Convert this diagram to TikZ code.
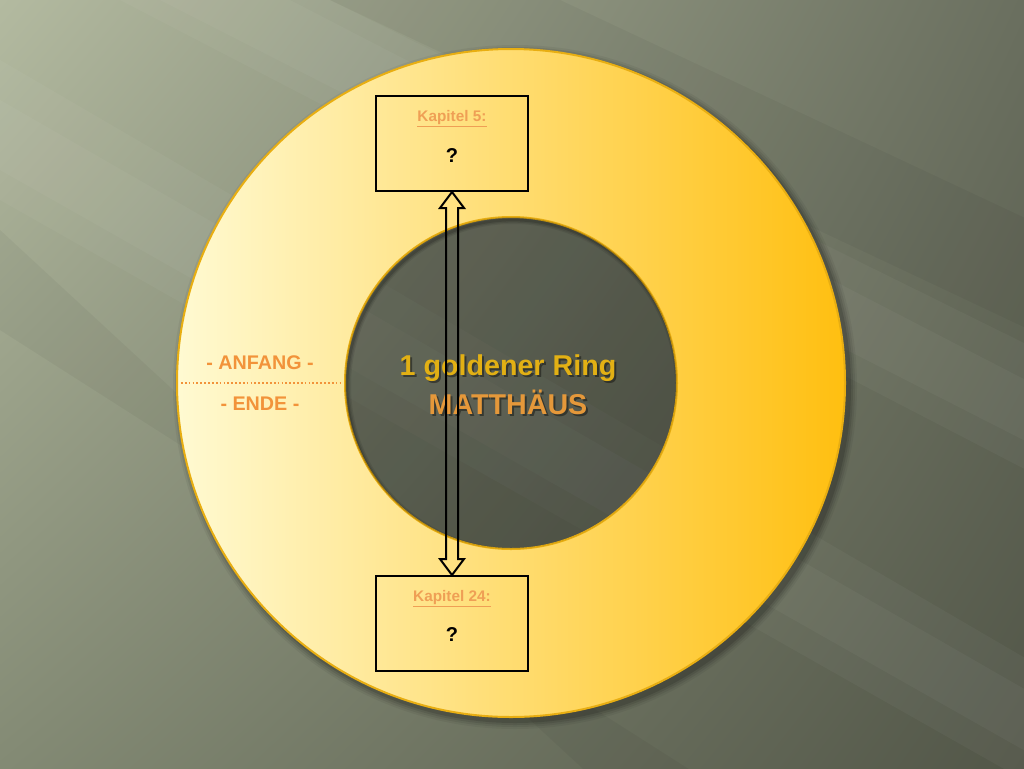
\documentclass[tikz,border=0pt]{standalone}
\usepackage{fontspec}
\setmainfont{Liberation Sans}
\usetikzlibrary{calc,shadings}
\definecolor{bgUL}{HTML}{B3BAA0}
\definecolor{bgUR}{HTML}{6A6F5F}
\definecolor{bgLL}{HTML}{838A74}
\definecolor{bgLR}{HTML}{525648}
\definecolor{ringL}{HTML}{FFFAD2}
\definecolor{ringM}{HTML}{FFE9A0}
\definecolor{ringR}{HTML}{FFBF10}
\definecolor{ringEdge}{HTML}{E8AE12}
\definecolor{kapOrange}{HTML}{EF9F55}
\definecolor{markOrange}{HTML}{F2933A}
\definecolor{goldText}{HTML}{E2B014}
\definecolor{mattOrange}{HTML}{E5983A}
\tikzset{
  kapbox/.style={draw=black, line width=1.5pt, minimum width=114pt, minimum height=71.25pt, inner sep=0pt},
  kaplabel/.style={font=\bfseries\fontsize{11.5pt}{13pt}\selectfont, text=kapOrange, inner sep=0pt},
  qmark/.style={font=\bfseries\fontsize{15pt}{17pt}\selectfont, text=black, inner sep=0pt},
  marklabel/.style={font=\bfseries\fontsize{14.8pt}{17pt}\selectfont, text=markOrange, inner sep=0pt},
  titletext/.style={font=\bfseries\fontsize{21.5pt}{24pt}\selectfont, inner sep=0pt},
  arrowline/.style={draw=black, line width=1.5pt, line join=miter},
  streak/.style={white, opacity=0.035}
}
\begin{document}
\begin{tikzpicture}[x=0.75pt,y=-0.75pt]
\useasboundingbox (0,0) rectangle (1024,768);
% background
\begin{scope}
\clip (0,0) rectangle (1024,768);
\shade[upper left=bgUL, upper right=bgUR, lower left=bgLL, lower right=bgLR] (0,0) rectangle (1024,768);
\fill[streak] (120,0) -- (330,0) -- (1200,430) -- (1200,560) -- cycle;
\fill[streak] (160,0) -- (290,0) -- (1200,470) -- (1200,530) -- cycle;
\fill[streak] (0,60) -- (0,200) -- (1200,880) -- (1200,760) -- cycle;
\fill[streak] (0,100) -- (0,170) -- (1200,850) -- (1200,790) -- cycle;
\fill[black, opacity=0.04] (330,0) -- (560,0) -- (1200,300) -- (1200,410) -- cycle;
\fill[black, opacity=0.04] (0,230) -- (0,330) -- (800,840) -- (660,840) -- cycle;
\end{scope}
% ring shadow
\foreach \r/\o in {342/0.05,340/0.07,338/0.09,336/0.12}{
  \fill[black, opacity=\o] (515,387) circle[radius=\r*0.75pt];
}
% ring
\shade[left color=ringL, middle color=ringM, right color=ringR, even odd rule]
  (511,383) circle[radius=250.5pt] (511,383) circle[radius=124.5pt];
\draw[ringEdge, line width=1.5pt] (511,383) circle[radius=250.5pt];
\draw[ringEdge, line width=1.5pt] (511,383) circle[radius=124.5pt];
% inner hole shadow
\begin{scope}
  \clip (511,383) circle[radius=124.5pt];
  \foreach \w/\o in {6/0.08,4/0.1,2/0.14}{
    \draw[black, opacity=\o, line width=\w pt] (513,386) circle[radius=124.5pt];
  }
\end{scope}
% center text
\node[titletext, text=black, opacity=0.4] at (510,370) {1 goldener Ring};
\node[titletext, text=goldText] (ring) at (508,368) {1 goldener Ring};
\node[titletext, text=black, opacity=0.4] at (510,404) {MATTHÄUS};
\node[titletext, text=mattOrange] (matt) at (508,402) {MATTHÄUS};
% boxes
\node[kapbox] (k5) at (452,143.5) {};
\node[kaplabel] (k5t) at (452,119) {\underline{Kapitel 5:}};
\node[qmark] (k5q) at (452,156) {?};
\node[kapbox] (k24) at (452,623.5) {};
\node[kaplabel] (k24t) at (452,599) {\underline{Kapitel 24:}};
\node[qmark] (k24q) at (452,635) {?};
% double arrow
\draw[arrowline] (k5.south) -- ($(k5.south)+(12,16)$) -- ($(k5.south)+(6,16)$)
  -- ($(k24.north)+(6,-16)$) -- ($(k24.north)+(12,-16)$) -- (k24.north)
  -- ($(k24.north)+(-12,-16)$) -- ($(k24.north)+(-6,-16)$)
  -- ($(k5.south)+(-6,16)$) -- ($(k5.south)+(-12,16)$) -- cycle;
% Anfang / Ende
\node[marklabel] (anf) at (260,363) {- ANFANG -};
\node[marklabel] (end) at (260,404) {- ENDE -};
\coordinate (dl) at (181,383);
\coordinate (dr) at (343,383);
\draw[markOrange, line width=1.3pt, dash pattern=on 1.3pt off 1.6pt] (dl) -- (dr);
\end{tikzpicture}
\end{document}
